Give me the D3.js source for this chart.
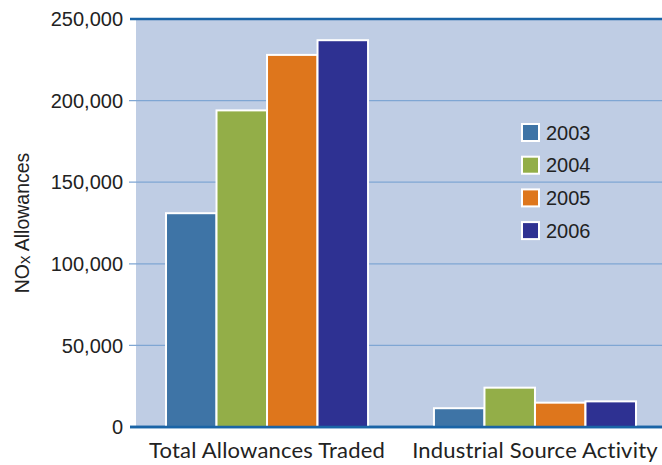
<!DOCTYPE html>
<html>
<head>
<meta charset="utf-8">
<script src="https://cdn.jsdelivr.net/npm/d3@7"></script>
<style>
  body { margin: 0; background: #fff; }
  .tick-label { font-family: "Liberation Sans", Arial, sans-serif; font-size: 20px; fill: #222; }
  .cat-label { font-family: Lato, sans-serif; font-size: 22px; fill: #222; letter-spacing: 0.2px; }
  .axis-title { font-family: "Liberation Sans", Arial, sans-serif; font-size: 19.5px; fill: #222; }
</style>
</head>
<body>
<svg id="chart"></svg>
<script>
// Data
const categories = ['Total Allowances Traded', 'Industrial Source Activity'];
const years = ['2003', '2004', '2005', '2006'];
const values2003 = [131000, 11500];
const values2004 = [194000, 24100];
const values2005 = [228000, 14900];
const values2006 = [237000, 15700];
const yTicks = [0, 50000, 100000, 150000, 200000, 250000];

const seriesValues = [values2003, values2004, values2005, values2006];
const colors = ['#3e74a6', '#93ae48', '#de761c', '#2e3192'];

const width = 662, height = 465;
const margin = { top: 19, bottom: 38, left: 136, right: 0 };

const svg = d3.select('#chart')
    .attr('width', width)
    .attr('height', height);

// Scales
const yScale = d3.scaleLinear()
    .domain([0, 250000])
    .range([height - margin.bottom, margin.top]);

const xScale = d3.scaleBand()
    .domain(categories)
    .range([margin.left, 666])
    .paddingInner(0.246)
    .paddingOuter(0.112);

const xSub = d3.scaleBand()
    .domain(years)
    .range([0, xScale.bandwidth()]);

// Plot background
svg.append('rect')
    .attr('x', margin.left)
    .attr('y', yScale(250000))
    .attr('width', width - margin.left)
    .attr('height', yScale(0) - yScale(250000))
    .attr('fill', '#bfcde4');

// Gridlines
svg.selectAll('.grid')
    .data(yTicks.filter(d => d > 0 && d < 250000))
    .join('line')
    .attr('class', 'grid')
    .attr('x1', 129)
    .attr('x2', width)
    .attr('y1', d => yScale(d))
    .attr('y2', d => yScale(d))
    .attr('stroke', '#7fa6d3')
    .attr('stroke-width', 1.3);

// Top and bottom lines
svg.selectAll('.edge')
    .data([0, 250000])
    .join('line')
    .attr('class', 'edge')
    .attr('x1', 130)
    .attr('x2', width)
    .attr('y1', d => yScale(d))
    .attr('y2', d => yScale(d))
    .attr('stroke', '#1a64a6')
    .attr('stroke-width', 2.5);

// Tick labels
svg.selectAll('.tick-label')
    .data(yTicks)
    .join('text')
    .attr('class', 'tick-label')
    .attr('x', 123)
    .attr('y', d => yScale(d))
    .attr('dy', '0.36em')
    .attr('text-anchor', 'end')
    .text(d => d3.format(',')(d));

// Bars
const groups = svg.selectAll('.group')
    .data(categories)
    .join('g')
    .attr('class', 'group')
    .attr('transform', d => `translate(${xScale(d)},0)`);

groups.selectAll('rect')
    .data((d, i) => years.map((y, j) => ({ year: y, value: seriesValues[j][i], color: colors[j] })))
    .join('rect')
    .attr('x', d => xSub(d.year))
    .attr('y', d => yScale(d.value))
    .attr('width', xSub.bandwidth())
    .attr('height', d => yScale(0) - yScale(d.value))
    .attr('fill', d => d.color)
    .attr('stroke', '#fff')
    .attr('stroke-width', 2);

// Redraw baseline over bars
svg.append('line')
    .attr('x1', 130)
    .attr('x2', width)
    .attr('y1', yScale(0))
    .attr('y2', yScale(0))
    .attr('stroke', '#1a64a6')
    .attr('stroke-width', 2.5);

// Category labels
svg.selectAll('.cat-label')
    .data(categories)
    .join('text')
    .attr('class', 'cat-label')
    .attr('x', d => xScale(d) + xScale.bandwidth() / 2)
    .attr('y', 458)
    .attr('text-anchor', 'middle')
    .text(d => d);

// Legend
const legend = svg.append('g')
    .attr('transform', 'translate(522,124)');

const legendItems = legend.selectAll('g')
    .data(years)
    .join('g')
    .attr('transform', (d, i) => `translate(0,${i * 32.7})`);

legendItems.append('rect')
    .attr('width', 17)
    .attr('height', 17)
    .attr('fill', (d, i) => colors[i])
    .attr('stroke', '#fff')
    .attr('stroke-width', 2);

legendItems.append('text')
    .attr('class', 'tick-label')
    .attr('x', 24)
    .attr('y', 8.5)
    .attr('dy', '0.36em')
    .text(d => d);

// Y axis title
const yTitle = svg.append('text')
    .attr('class', 'axis-title')
    .attr('text-anchor', 'middle')
    .attr('transform', `translate(28.5,${(yScale(0) + yScale(250000)) / 2}) rotate(-90)`);
yTitle.append('tspan').text('NO');
yTitle.append('tspan').attr('font-size', '17px').attr('dy', 1).text('x');
yTitle.append('tspan').attr('dy', -1).text(' Allowances');
</script>
</body>
</html>
